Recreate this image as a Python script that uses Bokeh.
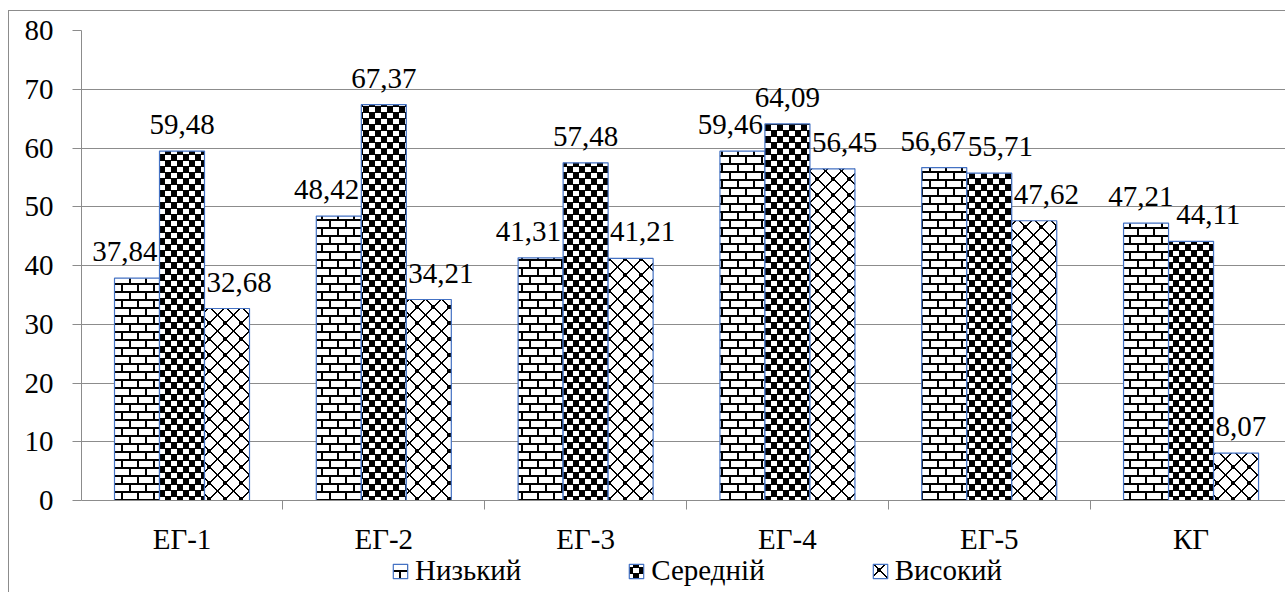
import base64, struct, zlib
from bokeh.plotting import figure
from bokeh.models import (ColumnDataSource, Range1d, FixedTicker, LabelSet, Legend,
                          LegendItem, ImageURLTexture)
from bokeh.core.properties import value
from bokeh.embed import file_html
from bokeh.resources import INLINE

groups = ["ЕГ-1", "ЕГ-2", "ЕГ-3", "ЕГ-4", "ЕГ-5", "КГ"]
series_names = ["Низький", "Середній", "Високий"]
low = [37.84, 48.42, 41.31, 59.46, 56.67, 47.21]
mid = [59.48, 67.37, 57.48, 64.09, 55.71, 44.11]
high = [32.68, 34.21, 41.21, 56.45, 47.62, 8.07]
y_ticks = [0, 10, 20, 30, 40, 50, 60, 70, 80]

FONT = "Liberation Serif"
FS = 29
GRAY = "#8c8c8c"
BLUE = "#4472c4"


def png_url(w, h, black):
    rows = b""
    for yy in range(h):
        row = b"\x00"
        for xx in range(w):
            row += b"\x00\x00\x00\xff" if black(xx, yy) else b"\xff\xff\xff\x00"
        rows += row
    def chunk(t, d):
        c = struct.pack(">I", len(d)) + t + d
        return c + struct.pack(">I", zlib.crc32(t + d) & 0xffffffff)
    png = b"\x89PNG\r\n\x1a\n" + chunk(b"IHDR", struct.pack(">IIBBBBB", w, h, 8, 6, 0, 0, 0))
    png += chunk(b"IDAT", zlib.compress(rows)) + chunk(b"IEND", b"")
    return "data:image/png;base64," + base64.b64encode(png).decode()


def brick_px(x, y):
    if y % 8 < 2:
        return True
    if y < 8:
        return x < 2
    return 8 <= x < 10


def checker_px(x, y):
    white = ((x // 6 + y // 6) % 2 == 0) and (y % 6 != 5)
    return not white


def lattice_px(x, y):
    if x in (0, 15) and y in (0, 15):
        return True
    if 6 <= x <= 9 and 6 <= y <= 9 and abs(x - 7.5) + abs(y - 7.5) < 3:
        return True
    return (x - y) in (0, 1) or (x + y) in (15, 16)


textures = {
    "brick": ImageURLTexture(url=png_url(16, 16, brick_px)),
    "checker": ImageURLTexture(url=png_url(12, 12, checker_px)),
    "lattice": ImageURLTexture(url=png_url(16, 16, lattice_px)),
}
patterns = ["brick", "checker", "lattice"]

n = len(groups)
x_center = [i + 0.5 for i in range(n)]
bar_w = 0.223
offsets = [-bar_w, 0.0, bar_w]

px_x = 201.8          # px per category
px_y = 5.875          # px per value unit
below_px = 92         # room under the zero line (axis labels + legend) inside the frame

p = figure(frame_width=1204, frame_height=470 + below_px, output_backend="svg",
           toolbar_location=None,
           x_range=Range1d(0.002, 5.968), y_range=Range1d(-below_px / px_y, 80),
           min_border_left=72, min_border_top=19, min_border_right=0,
           min_border_bottom=0)
p.styles = {"border-left": "1px solid #8c8c8c", "border-top": "1px solid #8c8c8c",
            "margin-left": "8px", "margin-top": "10px"}
p.outline_line_color = None
p.background_fill_color = "white"
p.border_fill_color = "white"

renderers = []
series = [low, mid, high]
for k, (vals, pat) in enumerate(zip(series, patterns)):
    xs = [c + offsets[k] for c in x_center]
    src = ColumnDataSource(dict(x=xs, top=vals))
    r = p.vbar(x="x", top="top", width=bar_w, bottom=0, source=src,
               fill_color="white", line_color=BLUE, line_width=1.2,
               hatch_pattern=value(pat), hatch_extra=textures, hatch_color="black")
    renderers.append(r)

# data labels: centred over bars, nudged sideways when they would collide
y_off = 17
half_bar = bar_w * px_x / 2
lab_x, lab_y, lab_t, lab_off = [], [], [], []
for i in range(n):
    vals = [low[i], mid[i], high[i]]
    texts = [f"{v:.2f}".replace(".", ",") for v in vals]
    widths = [FS * (0.5 * (len(t) - 1) + 0.25) for t in texts]
    cx = [offsets[k] * px_x for k in range(3)]
    for k in range(3):
        base = vals[k] + y_off / px_y
        if k + 1 < 3 and vals[k + 1] > base:
            edge = offsets[k + 1] * px_x - half_bar
            cx[k] = min(cx[k], edge - widths[k] / 2 - 2)
        if k - 1 >= 0 and vals[k - 1] > base:
            edge = offsets[k - 1] * px_x + half_bar
            cx[k] = max(cx[k], edge + widths[k] / 2 + 2)
    for k in range(2):
        dy = abs(vals[k] - vals[k + 1]) * px_y
        need = (widths[k] + widths[k + 1]) / 2 + 2
        gap = cx[k + 1] - cx[k]
        if dy < 21 and gap < need:
            push = (need - gap) / 2
            cx[k] -= push
            cx[k + 1] += push
    for k in range(3):
        lab_x.append(x_center[i])
        lab_y.append(vals[k])
        lab_t.append(texts[k])
        lab_off.append(cx[k])

lsrc = ColumnDataSource(dict(x=lab_x, y=lab_y, t=lab_t, off=lab_off))
labels = LabelSet(x="x", y="y", text="t", source=lsrc, x_offset="off", y_offset=y_off,
                  text_align="center", text_baseline="alphabetic",
                  text_font=value(FONT), text_font_size=f"{FS}px", text_color="black")
p.add_layout(labels)

# axes
p.yaxis.ticker = FixedTicker(ticks=y_ticks)
p.yaxis.bounds = (0, 80)
p.yaxis.major_tick_out = 9
p.yaxis.major_tick_in = 0
p.yaxis.minor_tick_out = 0
p.yaxis.minor_tick_in = 0
p.yaxis.major_label_standoff = 19
p.yaxis.axis_line_color = GRAY
p.yaxis.major_tick_line_color = GRAY
p.yaxis.major_label_text_font = FONT
p.yaxis.major_label_text_font_size = f"{FS}px"
p.yaxis.major_label_text_color = "black"

p.xaxis.fixed_location = 0
p.xaxis.ticker = FixedTicker(ticks=x_center, minor_ticks=list(range(n + 1)))
p.xaxis.major_label_overrides = {c: g for c, g in zip(x_center, groups)}
p.xaxis.major_tick_out = 0
p.xaxis.major_tick_in = 0
p.xaxis.minor_tick_out = 9
p.xaxis.minor_tick_in = 0
p.xaxis.minor_tick_line_color = GRAY
p.xaxis.axis_line_color = GRAY
p.xaxis.major_label_standoff = 13
p.xaxis.major_label_text_font = FONT
p.xaxis.major_label_text_font_size = f"{FS}px"
p.xaxis.major_label_text_color = "black"

p.xgrid.grid_line_color = None
p.ygrid.ticker = FixedTicker(ticks=y_ticks)
p.ygrid.grid_line_color = GRAY
p.ygrid.grid_line_width = 1

legend = Legend(items=[LegendItem(label=nm, renderers=[r]) for nm, r in zip(series_names, renderers)],
                orientation="horizontal", location=(310, 5),
                glyph_width=18, glyph_height=18, label_standoff=6,
                spacing=106, padding=0, margin=0,
                label_text_font=FONT, label_text_font_size=f"{FS}px",
                label_text_color="black", border_line_color=None,
                background_fill_alpha=0)
p.add_layout(legend, "center")

open("out.html", "w").write(file_html(p, INLINE))
